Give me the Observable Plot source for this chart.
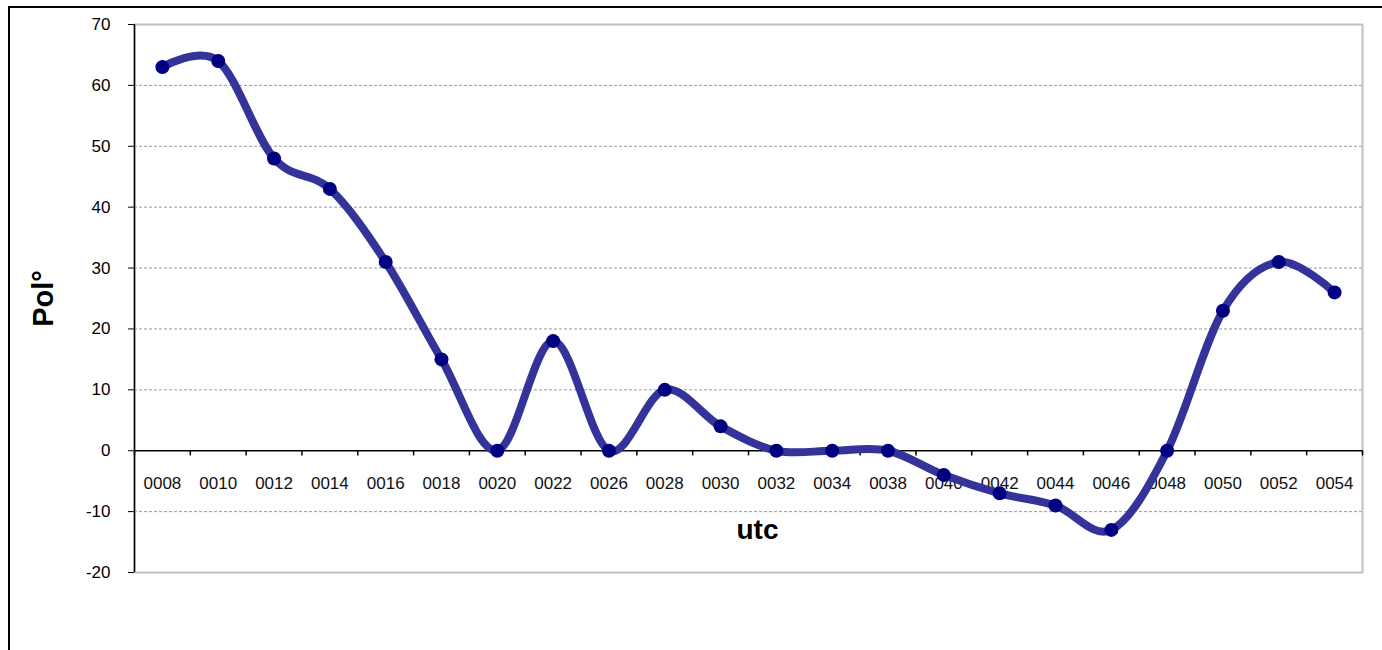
<!DOCTYPE html>
<html>
<head>
<meta charset="utf-8">
<script src="https://cdn.jsdelivr.net/npm/d3@7"></script>
<script src="https://cdn.jsdelivr.net/npm/@observablehq/plot@0.6"></script>
<style>
  html, body { margin: 0; padding: 0; background: #fff; overflow: hidden; }
  #wrap { position: relative; width: 1382px; height: 650px; }
  #border { position: absolute; left: 8px; top: 6px; width: 1400px; height: 700px;
            border-left: 2px solid #000; border-top: 2px solid #000; pointer-events: none; }
</style>
</head>
<body>
<div id="wrap"><div id="border"></div></div>
<script>
const categories = ["0008","0010","0012","0014","0016","0018","0020","0022","0026","0028","0030",
                    "0032","0034","0038","0040","0042","0044","0046","0048","0050","0052","0054"];
const values = [63, 64, 48, 43, 31, 15, 0, 18, 0, 10, 4, 0, 0, 0, -4, -7, -9, -13, 0, 23, 31, 26];
const yTicks = [-20, -10, 0, 10, 20, 30, 40, 50, 60, 70];
const gridTicks = [-10, 10, 20, 30, 40, 50, 60];
const yTitle = "Pol°";
const xTitle = "utc";

const data = categories.map((c, i) => ({i, c, v: values[i]}));
const bounds = d3.range(categories.length + 1).map(k => k - 0.5);

const chart = Plot.plot({
  width: 1382,
  height: 650,
  marginLeft: 134,
  marginRight: 20,
  marginTop: 24,
  marginBottom: 78,
  style: {fontFamily: "'Liberation Sans', Arial, sans-serif", fontSize: "17px", color: "#000", background: "#fff"},
  x: {type: "linear", domain: [-0.5, categories.length - 0.5], axis: null},
  y: {domain: [-20, 70]},
  marks: [
    Plot.gridY(gridTicks, {stroke: "#9a9a9a", strokeOpacity: 1, strokeDasharray: "3,2"}),
    Plot.frame({stroke: "#c0c0c0", strokeWidth: 2}),
    Plot.ruleX([-0.5], {stroke: "#000", strokeWidth: 1.5}),
    Plot.ruleY([0], {stroke: "#000", strokeWidth: 1.5}),
    Plot.ruleX(bounds, {x: d => d, y1: 0, y2: -0.85, stroke: "#000", strokeWidth: 1.5}),
    Plot.axisY({ticks: yTicks, tickSize: 6, tickPadding: 18, tickFormat: d => String(d), label: null, fontSize: 17, stroke: "#000"}),
    Plot.text(data, {x: "i", y: 0, text: "c", dy: 33, fontSize: 17, fill: "#111"}),
    Plot.line(data, {x: "i", y: "v", curve: "cardinal", stroke: "#333399", strokeWidth: 8}),
    Plot.dot(data, {x: "i", y: "v", r: 7, fill: "#000080", stroke: "none"}),
    Plot.text([xTitle], {frameAnchor: "bottom", dx: 9, dy: -34, fontSize: 28, fontWeight: "bold", fill: "#000"}),
    Plot.text([yTitle], {frameAnchor: "left", textAnchor: "middle", lineAnchor: "middle", dx: -91, rotate: -90, fontSize: 29, fontWeight: "bold", fill: "#000"})
  ]
});
document.getElementById("wrap").prepend(chart);
</script>
</body>
</html>
